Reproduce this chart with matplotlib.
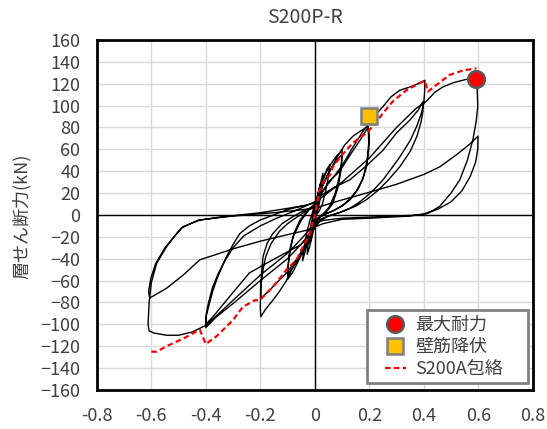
import numpy as np
import matplotlib.pyplot as plt
from matplotlib.patches import Rectangle

plt.rcParams['font.family'] = ['Noto Sans CJK JP', 'DejaVu Sans']

# hysteresis path (drift, shear force kN), one list per loading step
small_loops = [(0, 0), (0.005, 8), (0.01, 15), (0.015, 22), (0.02, 28), (0.018, 20), (0.012, 10),
               (0.005, 2), (0, -3), (-0.005, -10), (-0.01, -16), (-0.015, -22), (-0.018, -26),
               (-0.014, -16), (-0.008, -6), (-0.002, 3), (0.003, 8),
               (0.01, 18), (0.02, 28), (0.03, 38), (0.028, 28), (0.02, 15), (0.012, 5), (0.005, 0),
               (0, -8), (-0.01, -20), (-0.02, -30), (-0.028, -36), (-0.024, -25), (-0.015, -10),
               (-0.005, 2), (0.003, 10),
               (0.015, 22), (0.03, 33), (0.045, 42), (0.055, 46), (0.05, 35), (0.04, 22), (0.028, 10),
               (0.015, 3), (0.005, 0), (-0.005, -6), (-0.02, -20), (-0.035, -33), (-0.045, -42),
               (-0.04, -30), (-0.03, -17), (-0.018, -5), (-0.005, 5), (0.005, 12)]

loops_01 = [(0.02, 25), (0.04, 38), (0.06, 47), (0.08, 54), (0.1, 59), (0.098, 48), (0.09, 35),
            (0.075, 20), (0.055, 8), (0.035, 2), (0.015, -2), (0, -8), (-0.02, -20), (-0.04, -32),
            (-0.06, -42), (-0.08, -52), (-0.1, -59), (-0.097, -45), (-0.09, -30), (-0.075, -16),
            (-0.055, -5), (-0.03, 3), (-0.01, 8), (0, 10),
            (0.02, 22), (0.05, 38), (0.08, 50), (0.1, 55), (0.097, 42), (0.085, 25), (0.065, 10),
            (0.04, 2), (0.015, -3), (0, -8), (-0.03, -25), (-0.06, -40), (-0.1, -55), (-0.095, -38),
            (-0.08, -20), (-0.05, -5), (-0.02, 5), (0, 9)]

loops_02 = [(0.02, 22), (0.05, 38), (0.08, 52), (0.11, 64), (0.14, 72), (0.17, 77), (0.196, 81),
            (0.2, 72), (0.198, 60), (0.19, 44), (0.175, 32), (0.153, 22), (0.13, 15), (0.103, 9),
            (0.07, 4), (0.04, 1), (0.01, -3), (0, -8), (-0.02, -20), (-0.05, -35), (-0.08, -48),
            (-0.104, -60), (-0.13, -70), (-0.154, -78), (-0.18, -86), (-0.198, -93),
            (-0.2, -85), (-0.199, -68), (-0.194, -50), (-0.19, -38), (-0.175, -26), (-0.154, -17),
            (-0.12, -8), (-0.08, -1.5), (-0.04, 4), (0, 8),
            (0.02, 18), (0.05, 30), (0.092, 40), (0.13, 55), (0.16, 66), (0.18, 74), (0.196, 80),
            (0.198, 66), (0.192, 50), (0.18, 36), (0.16, 24), (0.13, 14), (0.1, 8), (0.06, 3),
            (0.03, 0), (0.01, -4), (0, -10), (-0.03, -25), (-0.06, -38), (-0.1, -52), (-0.14, -62),
            (-0.17, -70), (-0.198, -76), (-0.198, -65), (-0.19, -50), (-0.18, -38), (-0.16, -26),
            (-0.13, -15), (-0.1, -8), (-0.06, -1), (-0.03, 4), (0, 8)]

loops_04 = [(0.03, 22), (0.06, 32), (0.1, 45), (0.14, 62), (0.176, 76), (0.21, 88), (0.25, 99),
            (0.28, 108), (0.312, 114), (0.35, 117), (0.38, 120), (0.404, 123),
            (0.403, 112), (0.4, 102), (0.39, 92), (0.374, 81), (0.35, 68), (0.312, 53), (0.28, 42),
            (0.25, 32), (0.22, 24), (0.19, 17), (0.16, 11), (0.128, 6), (0.09, 2), (0.05, -1),
            (0.02, -4), (0, -10), (-0.04, -24), (-0.1, -40), (-0.2, -60), (-0.3, -81), (-0.36, -93),
            (-0.4, -103), (-0.398, -92), (-0.39, -84), (-0.375, -70), (-0.36, -59), (-0.34, -47),
            (-0.324, -38), (-0.3, -27), (-0.275, -17), (-0.24, -10), (-0.2, -4.6), (-0.15, 0),
            (-0.104, 4.6), (-0.05, 8), (0, 11),
            (0.018, 17), (0.07, 25), (0.128, 32), (0.19, 45), (0.25, 59), (0.3, 75), (0.35, 87),
            (0.38, 96), (0.397, 103.6), (0.397, 95), (0.39, 85), (0.375, 72), (0.35, 58),
            (0.312, 44), (0.27, 32), (0.23, 22), (0.19, 14), (0.15, 8), (0.1, 3), (0.05, -1),
            (0.02, -5), (0, -12), (-0.05, -27), (-0.154, -41), (-0.24, -53), (-0.324, -78),
            (-0.37, -92), (-0.4, -100), (-0.398, -90), (-0.39, -80), (-0.375, -66), (-0.355, -54),
            (-0.33, -42), (-0.3, -30), (-0.26, -19), (-0.2, -10), (-0.14, -3), (-0.07, 4), (0, 12)]

loops_06 = [(0.02, 15), (0.1, 30), (0.2, 52), (0.3, 80), (0.37, 97), (0.41, 104), (0.44, 112),
            (0.47, 117), (0.51, 121), (0.557, 124), (0.59, 125),
            (0.596, 115), (0.598, 99), (0.592, 85), (0.58, 68.5), (0.56, 50), (0.532, 32),
            (0.5, 20), (0.459, 8), (0.42, 2), (0.397, 0), (0.3, -1), (0.2, -2), (0.1, -3),
            (0.03, -5), (0, -8), (-0.05, -22), (-0.1, -35), (-0.2, -55), (-0.3, -78),
            (-0.36, -92), (-0.4, -101), (-0.45, -107), (-0.5, -110), (-0.544, -110), (-0.59, -108),
            (-0.608, -106), (-0.612, -100), (-0.608, -80), (-0.6, -62), (-0.58, -44),
            (-0.544, -29), (-0.51, -18), (-0.483, -10.7), (-0.422, -4.6), (-0.3, -1), (-0.15, 2),
            (0, 6),
            (0.05, 10), (0.104, 14), (0.19, 20), (0.3, 28), (0.4, 37), (0.459, 44), (0.52, 55),
            (0.57, 65), (0.599, 72), (0.598, 60), (0.59, 48), (0.57, 35), (0.54, 22), (0.5, 12),
            (0.45, 5), (0.4, 1), (0.35, -1), (0.2, -3), (0.1, -4), (0.03, -8), (-0.03, -14),
            (-0.1, -18), (-0.2, -24), (-0.3, -31), (-0.36, -36), (-0.422, -41), (-0.483, -55),
            (-0.544, -67), (-0.606, -76), (-0.61, -70), (-0.602, -58), (-0.585, -45),
            (-0.55, -30), (-0.49, -12), (-0.43, -5), (-0.35, -2), (-0.2, 2), (-0.05, 8)]

# S200A envelope
env_x = [-0.6, -0.58, -0.544, -0.483, -0.422, -0.4, -0.361, -0.3, -0.264, -0.22, -0.202, -0.165,
         -0.141, -0.104, -0.067, -0.044, -0.02, -0.01, 0, 0.006, 0.018, 0.037, 0.055, 0.066, 0.104,
         0.14, 0.19, 0.213, 0.25, 0.287, 0.336, 0.385, 0.404, 0.415, 0.447, 0.495, 0.543, 0.593]
env_y = [-125, -125, -120, -113, -105, -118, -111, -96, -84, -78, -78, -68.5,
         -62, -50, -41, -29, -18, -9, 0, 8, 23, 33, 36, 44, 56,
         66, 75, 81, 93, 104, 114, 120.6, 122.5, 112.7, 119, 128, 132, 134]

max_x, max_y = [0.591], [124.5]
yield_x, yield_y = [0.2], [90.5]

path = small_loops + loops_01 + loops_02 + loops_04 + loops_06
hx = np.array([p[0] for p in path])
hy = np.array([p[1] for p in path])

fig = plt.figure(figsize=(5.47, 4.29), dpi=100)
ax = fig.add_axes([0.177, 0.091, 0.797, 0.816])

ax.plot(hx, hy, color='black', lw=1.0, zorder=3)
ax.plot(env_x, env_y, color='red', lw=1.6, ls=(0, (2.5, 1.5)), zorder=4, label='S200A包絡')
ax.plot(max_x, max_y, 'o', ms=12, mfc='red', mec='#595959', mew=1.8, zorder=5, label='最大耐力')
ax.plot(yield_x, yield_y, 's', ms=12, mfc='#FFC000', mec='#7f7f7f', mew=1.8, zorder=5, label='壁筋降伏')

ax.axhline(0, color='black', lw=1.0, zorder=2)
ax.axvline(0, color='black', lw=1.0, zorder=2)

ax.set_xlim(-0.8, 0.8)
ax.set_ylim(-160, 160)
ax.set_xticks(np.arange(-0.8, 0.81, 0.2))
ax.set_xticklabels(['-0.8', '-0.6', '-0.4', '-0.2', '0', '0.2', '0.4', '0.6', '0.8'])
ax.set_yticks(np.arange(-160, 161, 20))
ax.grid(True, color='#d9d9d9', lw=1.0, zorder=0)
ax.set_axisbelow(True)
ax.tick_params(length=0, labelsize=13, colors='#404040')
ax.tick_params(axis='y', pad=12)
ax.tick_params(axis='x', pad=12)
for s in ax.spines.values():
    s.set_linewidth(2.0)
    s.set_color('black')

fig.text(305 / 547, 1 - 17.5 / 429, 'S200P-R', fontsize=14, color='#404040',
         ha='center', va='center')
fig.text(21.7 / 547, 1 - 216.5 / 429, '層せん断力(kN)', fontsize=13, color='#404040',
         rotation=90, ha='center', va='center')

# legend box drawn separately so it can be wider than its content
box = Rectangle((0.6197, 0.02), 0.3689, 0.2086, transform=ax.transAxes, fc='white',
                ec='#808080', lw=2.0, zorder=6)
ax.add_patch(box)

h, l = ax.get_legend_handles_labels()
order = [1, 2, 0]
leg = ax.legend([h[i] for i in order], [l[i] for i in order], loc='center',
                bbox_to_anchor=(0.796, 0.123), borderaxespad=0, fontsize=13, frameon=False,
                handlelength=1.2, handletextpad=0.5, borderpad=0.0, labelspacing=0.22)
leg.set_zorder(7)
for t in leg.get_texts():
    t.set_color('#404040')

plt.savefig('out.png', dpi=100)
